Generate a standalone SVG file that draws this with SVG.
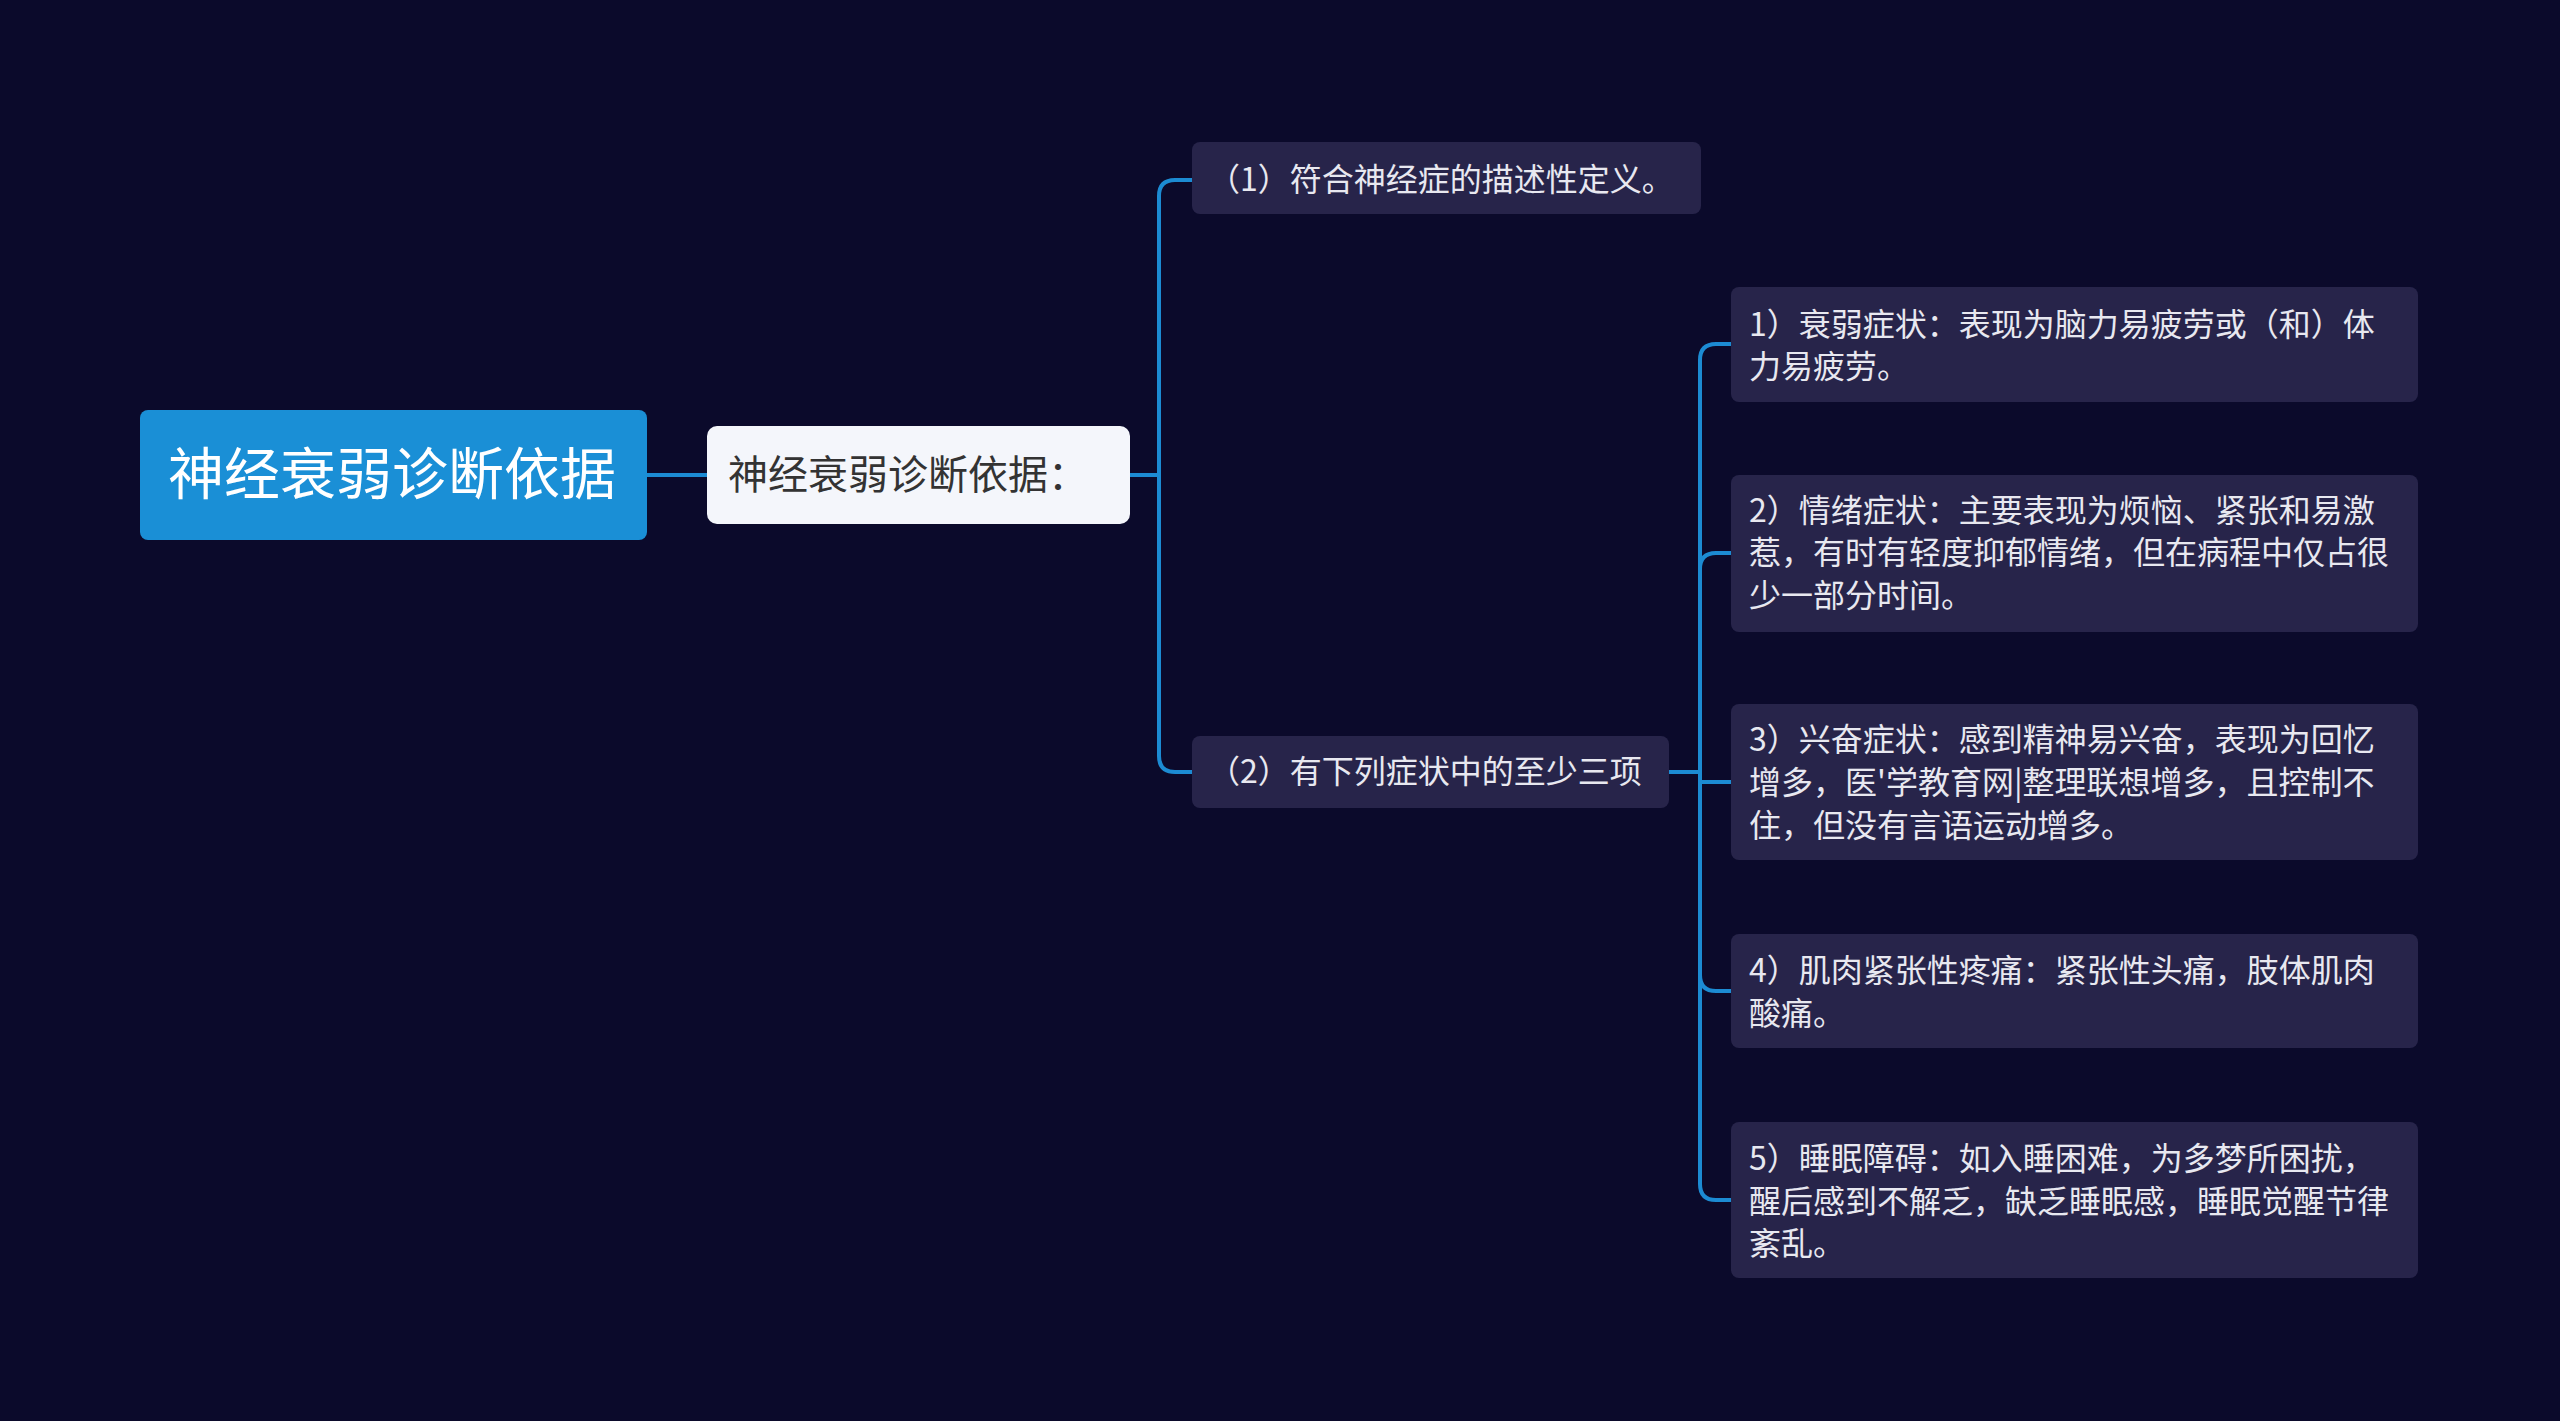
<svg xmlns="http://www.w3.org/2000/svg" width="2560" height="1421" viewBox="0 0 2560 1421">
<style>
.c{fill:none;stroke:#1c8bd3;stroke-width:4}
.t{font-family:"Noto Sans CJK SC","Noto Sans",sans-serif;fill:#e8e8f0;font-size:32px}
.leaf{fill:#27244a}
</style>
<rect width="2560" height="1421" fill="#0b0a2b"/>
<g id="connectors">
<path class="c" d="M647,475 H707"/>
<path class="c" d="M1130,475 H1159"/>
<path class="c" d="M1192,180 H1175 Q1159,180 1159,196 V756 Q1159,772 1175,772 H1192"/>
<path class="c" d="M1669,772 H1700"/>
<path class="c" d="M1731,344 H1716 Q1700,344 1700,360 V1184 Q1700,1200 1716,1200 H1731"/>
<path class="c" d="M1700,569 Q1700,553 1716,553 H1731"/>
<path class="c" d="M1700,782 H1731"/>
<path class="c" d="M1700,975 Q1700,991 1716,991 H1731"/>
</g>
<g id="root"><rect x="140" y="410" width="507" height="130" rx="8" fill="#1a8fd6"/>
<text x="168" y="494" font-family="Noto Sans CJK SC,sans-serif" font-size="56" fill="#fff">神经衰弱诊断依据</text></g>
<g id="main"><rect x="707" y="426" width="423" height="98" rx="10" fill="#f4f6fb"/>
<text x="728" y="489" font-family="Noto Sans CJK SC,sans-serif" font-size="40" fill="#333">神经衰弱诊断依据：</text></g>
<g id="n1"><rect class="leaf" x="1192" y="142" width="509" height="72" rx="8"/><text class="t" x="1208" y="191">（1）符合神经症的描述性定义。</text></g>
<g id="n2"><rect class="leaf" x="1192" y="736" width="477" height="72" rx="8"/><text class="t" x="1208" y="783">（2）有下列症状中的至少三项</text></g>
<g id="l1"><rect class="leaf" x="1731" y="287" width="687" height="115" rx="8"/><text class="t" x="1749" y="336">1）衰弱症状：表现为脑力易疲劳或（和）体</text><text class="t" x="1749" y="378">力易疲劳。</text></g>
<g id="l2"><rect class="leaf" x="1731" y="475" width="687" height="157" rx="8"/><text class="t" x="1749" y="522">2）情绪症状：主要表现为烦恼、紧张和易激</text><text class="t" x="1749" y="564">惹，有时有轻度抑郁情绪，但在病程中仅占很</text><text class="t" x="1749" y="607">少一部分时间。</text></g>
<g id="l3"><rect class="leaf" x="1731" y="704" width="687" height="156" rx="8"/><text class="t" x="1749" y="751">3）兴奋症状：感到精神易兴奋，表现为回忆</text><text class="t" x="1749" y="794">增多，医'学教育网|整理联想增多，且控制不</text><text class="t" x="1749" y="837">住，但没有言语运动增多。</text></g>
<g id="l4"><rect class="leaf" x="1731" y="934" width="687" height="114" rx="8"/><text class="t" x="1749" y="982">4）肌肉紧张性疼痛：紧张性头痛，肢体肌肉</text><text class="t" x="1749" y="1025">酸痛。</text></g>
<g id="l5"><rect class="leaf" x="1731" y="1122" width="687" height="156" rx="8"/><text class="t" x="1749" y="1170">5）睡眠障碍：如入睡困难，为多梦所困扰，</text><text class="t" x="1749" y="1213">醒后感到不解乏，缺乏睡眠感，睡眠觉醒节律</text><text class="t" x="1749" y="1255">紊乱。</text></g>
</svg>
